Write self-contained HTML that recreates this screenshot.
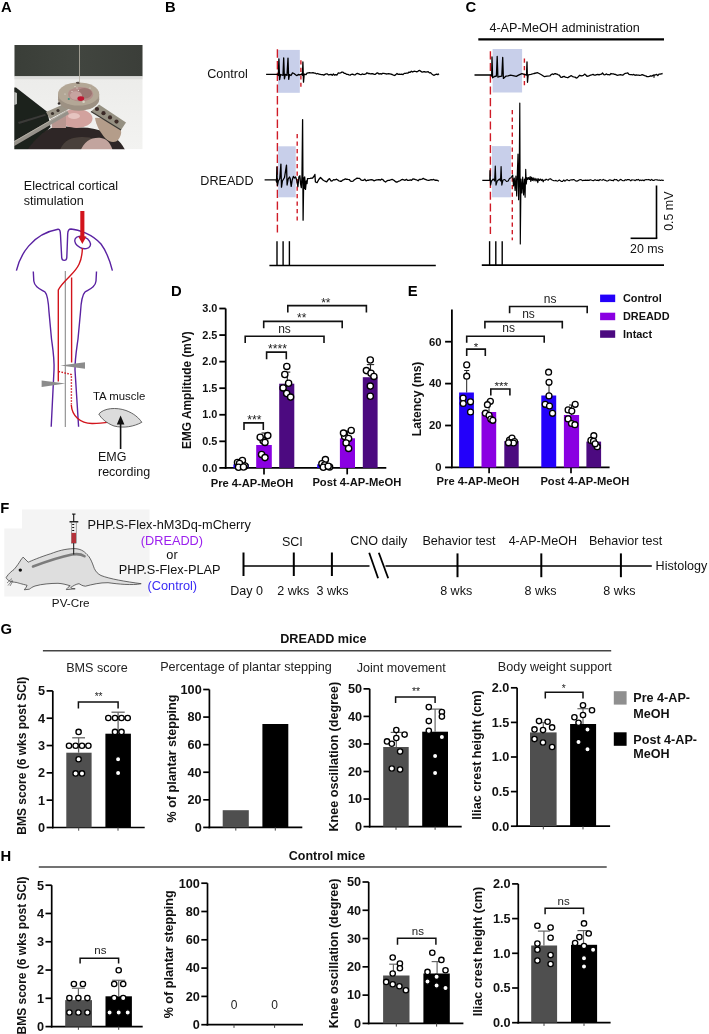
<!DOCTYPE html>
<html><head><meta charset="utf-8"><style>
html,body{margin:0;padding:0;background:#fff;}
body{width:709px;height:1034px;overflow:hidden;}
svg{display:block;font-family:"Liberation Sans", sans-serif;will-change:transform;filter:blur(0.4px);}
</style></head><body>
<svg width="709" height="1034" viewBox="0 0 709 1034">
<text x="1.0" y="12.4" font-size="14.8" font-weight="bold" text-anchor="start" fill="#000">A</text>
<text x="165.1" y="12.4" font-size="14.8" font-weight="bold" text-anchor="start" fill="#000">B</text>
<text x="465.4" y="12.4" font-size="14.8" font-weight="bold" text-anchor="start" fill="#000">C</text>
<text x="171.0" y="295.6" font-size="14.8" font-weight="bold" text-anchor="start" fill="#000">D</text>
<text x="407.8" y="295.6" font-size="14.8" font-weight="bold" text-anchor="start" fill="#000">E</text>
<text x="0.2" y="512.9" font-size="14.8" font-weight="bold" text-anchor="start" fill="#000">F</text>
<text x="0.4" y="634.2" font-size="14.8" font-weight="bold" text-anchor="start" fill="#000">G</text>
<text x="0.4" y="860.5" font-size="14.8" font-weight="bold" text-anchor="start" fill="#000">H</text>
<defs>
<linearGradient id="bgw" x1="0" y1="0" x2="0" y2="1"><stop offset="0" stop-color="#e9e9e7"/><stop offset="1" stop-color="#f3f3f1"/></linearGradient>
<linearGradient id="dark" x1="0" y1="0" x2="1" y2="0"><stop offset="0" stop-color="#3a3e38"/><stop offset="0.5" stop-color="#41453f"/><stop offset="1" stop-color="#3b3e39"/></linearGradient>
<radialGradient id="ring" cx="0.5" cy="0.5" r="0.5"><stop offset="0.55" stop-color="#c9a9a5"/><stop offset="0.7" stop-color="#aaa197"/><stop offset="1" stop-color="#9d968b"/></radialGradient>
<filter id="blur1"><feGaussianBlur stdDeviation="0.55"/></filter>
<filter id="blur2"><feGaussianBlur stdDeviation="1.5"/></filter>
<clipPath id="photoclip"><rect x="14.3" y="44.9" width="128.4" height="104.3"/></clipPath>
</defs>
<g clip-path="url(#photoclip)">
<rect x="14.3" y="44.9" width="128.4" height="104.3" fill="url(#bgw)"/>
<rect x="14.3" y="44.9" width="128.4" height="31.4" fill="url(#dark)"/>
<g filter="url(#blur1)">
<rect x="14.3" y="76.3" width="128.4" height="3" fill="#dcdcda"/>
<path d="M10,87.5 L16,87.5 L47.5,112 L50.5,127 L40,138 L28,152 L10,152 Z" stroke="none" stroke-width="1" fill="#1f201e"/>
<path d="M14.3,92 L17,93 L17,104 L14.3,105 Z" stroke="none" stroke-width="1" fill="#b8bab6"/>
<path d="M18,122 L45,114 L46,115.5 L19,124 Z" stroke="none" stroke-width="1" fill="#3a3b38"/>
<path d="M26,152 C34,140 44,130 54,127 C62,125 70,127 78,127.5 C88,127 98,129 108,133 C116,137 122,143 126,152 Z" stroke="none" stroke-width="1" fill="#2d2825"/>
<path d="M60,150 C64,140 72,137 82,137 C92,137 100,140 106,146 L108,152 L60,152 Z" stroke="none" stroke-width="1" fill="#4a3f3a"/>
<path d="M80,152 C84,141 92,137 101,138 C107,139 111,143 113,152 Z" stroke="none" stroke-width="1" fill="#c2a49e"/>
<path d="M95,118 C102,117 112,122 119,127 C123,131 121,137 117,141 C113,143 109,142 105,138 C100,132 96,125 95,118 Z" stroke="none" stroke-width="1" fill="#b49d8a"/>
<ellipse cx="76.5" cy="118.5" rx="16" ry="9.5" fill="#d2a29e"/>
<ellipse cx="74" cy="116" rx="6" ry="3" fill="#e6c4c0"/>
<path d="M51,119 L66,115 L66,128 L52,128 Z" stroke="none" stroke-width="1" fill="#b89690"/>
<path d="M46,112 L63,104.5 L68,109.5 L50,119 Z" stroke="none" stroke-width="1" fill="#9a9487"/>
<path d="M67,110.5 L14.3,141 L14.3,146 L69,114 Z" stroke="none" stroke-width="1" fill="#96928a"/>
<path d="M67,111 L14.3,141.5" stroke="#c2beb2" stroke-width="0.7" fill="none"/>
<path d="M91,111.5 L99,104.5 L126,122.5 L121,130 Z" stroke="none" stroke-width="1" fill="#959082"/>
<path d="M91,111.5 L121,130" stroke="#3a3833" stroke-width="1.2" fill="none"/>
<circle cx="97.0" cy="109.0" r="2.1" fill="#3b2a28"/>
<circle cx="103.5" cy="113.2" r="2.1" fill="#3b2a28"/>
<circle cx="110" cy="117.4" r="2.1" fill="#3b2a28"/>
<circle cx="116.5" cy="121.6" r="2.1" fill="#3b2a28"/>
<circle cx="52.5" cy="113.5" r="1.6" fill="#3a302c"/>
<circle cx="58" cy="110.5" r="1.6" fill="#3a302c"/>
<ellipse cx="78.6" cy="99.4" rx="20.6" ry="11.3" fill="#9d9183"/>
<rect x="58" y="94" width="41.2" height="5.4" fill="#a39789"/>
<ellipse cx="78.6" cy="94.0" rx="20.6" ry="11.6" fill="#b3a796"/>
<ellipse cx="80.6" cy="94.3" rx="12.6" ry="7.3" fill="#b38e8a"/>
<ellipse cx="84.5" cy="93.2" rx="7.5" ry="5.2" fill="#9c7672"/>
<ellipse cx="76" cy="95.5" rx="6" ry="4.3" fill="#c6a4a0"/>
<ellipse cx="80.8" cy="98.6" rx="3.4" ry="2.4" fill="#bf1830"/>
<circle cx="83.6" cy="101.8" r="1.3" fill="#d8d4c4"/>
<circle cx="68.8" cy="99.0" r="1.1" fill="#3e8c80"/>
<circle cx="59" cy="103.5" r="1.3" fill="#302c2a"/>
<ellipse cx="78" cy="82.8" rx="2.2" ry="1.1" fill="#5a5048"/>
<circle cx="77" cy="88" r="0.6" fill="#e8e4dc"/>
<circle cx="78.5" cy="90.5" r="0.6" fill="#e8e4dc"/>
<circle cx="72" cy="91.5" r="0.6" fill="#e8e4dc"/>
<circle cx="75" cy="86.5" r="0.6" fill="#e8e4dc"/>
<circle cx="65" cy="94" r="0.6" fill="#e8e4dc"/>
<circle cx="90" cy="88" r="0.6" fill="#e8e4dc"/>
</g>
<line x1="79.5" y1="44.9" x2="79.5" y2="83" stroke="#b8b2a6" stroke-width="0.8"/>
</g>
<text x="23.8" y="190.3" font-size="12.55" font-weight="normal" text-anchor="start" fill="#111">Electrical cortical</text>
<text x="23.8" y="205.3" font-size="12.55" font-weight="normal" text-anchor="start" fill="#111">stimulation</text>
<text x="93.0" y="400.3" font-size="11.4" font-weight="normal" text-anchor="start" fill="#111">TA muscle</text>
<text x="98.0" y="461.0" font-size="12.5" font-weight="normal" text-anchor="start" fill="#111">EMG</text>
<text x="98.0" y="475.8" font-size="12.5" font-weight="normal" text-anchor="start" fill="#111">recording</text>
<path d="M16.4,270.7 C20,255 32,234 58,229.3 C59.8,229 60.3,231 60.5,235 L61.7,257.5 C61.9,261.3 66.6,261.3 66.8,257.5 L67.7,234 C67.8,230 69,229 71,229 C78,229.5 92,234 101,244 C107,252 110,261 112.4,270.7" stroke="#5a22a2" stroke-width="1.4" fill="none"/>
<ellipse cx="82.6" cy="242.5" rx="8.3" ry="5.6" transform="rotate(25 82.6 242.5)" fill="none" stroke="#5a22a2" stroke-width="1.4"/>
<path d="M33.3,271.5 L33.8,281 C34.5,287 40,289 45,292 C48,295 48.5,303 49,312 L51.5,339 C53,350 54.5,358 54,370 L51.2,426.8" stroke="#5a22a2" stroke-width="1.4" fill="none"/>
<path d="M96.5,271.5 L96,281 C95.5,287 90,289 85,292 C82,295 81,303 80.5,312 L78,339 C76.5,350 75,358 75,370 L78.6,426.8" stroke="#5a22a2" stroke-width="1.4" fill="none"/>
<line x1="65.3" y1="271" x2="65.3" y2="427" stroke="#8a8a8a" stroke-width="1.1"/>
<path d="M82.4,248 C82,262 78,268 70,276 C64,282 60,286 58.3,290 L58.3,381.5" stroke="#d2141c" stroke-width="1.4" fill="none"/>
<line x1="71.6" y1="277.5" x2="71.6" y2="362.5" stroke="#d2141c" stroke-width="1.4"/>
<path d="M58.5,371.5 L71.4,374.5 L71.4,404.5" stroke="#d2141c" stroke-width="1.4" fill="none" stroke-dasharray="1.6,1.4"/>
<path d="M71.3,405 C72,416 80,423 92,423.5 C100,423.6 106,422.5 112.5,421.5" stroke="#d2141c" stroke-width="1.4" fill="none"/>
<path d="M60.4,365.5 L85,362.3 L85,368.8 Z" stroke="none" stroke-width="1" fill="#8c8c8c"/>
<path d="M41.6,380.4 L41.6,386.9 L65.5,383.6 Z" stroke="none" stroke-width="1" fill="#8c8c8c"/>
<path d="M80.3,211 L84.4,211 L84.4,236.5 L86.4,236.5 L82.35,244 L78.3,236.5 L80.3,236.5 Z" stroke="none" stroke-width="1" fill="#d2141c"/>
<path d="M98.8,414 C104,408 116,407 126,410.5 C134,413.5 139,418 141.8,422.3 C134,426.5 124,428.5 114,426 C106,423 101,418 98.8,414 Z" stroke="#555" stroke-width="0.9" fill="#dcdcdc"/>
<line x1="120.6" y1="449" x2="120.6" y2="423" stroke="#111" stroke-width="1.6"/>
<path d="M116.8,424.5 L124.4,424.5 L120.6,415.6 Z" stroke="none" stroke-width="1" fill="#111"/>
<text x="207.2" y="77.5" font-size="12.6" font-weight="normal" text-anchor="start" fill="#111">Control</text>
<text x="200.3" y="184.8" font-size="12.6" font-weight="normal" text-anchor="start" fill="#111">DREADD</text>
<rect x="278.1" y="49.9" width="21.7" height="42.9" fill="#c8cfea"/>
<line x1="277.4" y1="49.3" x2="277.4" y2="232.5" stroke="#cf1b27" stroke-width="1.4" stroke-dasharray="8.4,3.3"/>
<line x1="300.9" y1="60.2" x2="300.9" y2="86.8" stroke="#cf1b27" stroke-width="1.4" stroke-dasharray="4.2,3.3"/>
<polyline points="266.10,74.40 277.90,74.40 278.30,75.50 278.90,59.00 279.60,79.70 280.60,74.50 283.00,75.30 283.70,57.90 284.40,78.80 285.40,74.30 287.00,75.40 288.00,58.10 288.70,79.30 289.50,74.60 291.00,75.50 292.50,72.90 294.00,73.50 295.80,75.00 297.00,75.60 298.40,74.50 300.00,74.80 301.50,74.00 302.40,75.20 302.90,61.90 303.50,82.20 304.20,74.20 306.00,74.60 307.00,73.13 308.20,72.85 309.40,72.75 310.60,72.88 311.80,72.92 313.00,72.68 314.20,73.17 315.40,73.20 316.60,73.96 317.80,73.48 319.00,74.21 320.20,74.36 321.40,74.55 322.60,74.65 323.80,75.16 325.00,74.37 326.20,73.86 327.40,73.94 328.60,74.94 329.80,74.54 331.00,74.36 332.20,75.35 333.40,74.04 334.60,75.19 335.80,74.54 337.00,75.03 338.20,73.00 339.40,73.22 340.60,72.81 341.80,72.14 343.00,72.21 344.20,73.32 345.40,73.39 346.60,74.33 347.80,74.42 349.00,74.86 350.20,75.09 351.40,74.29 352.60,74.04 353.80,74.81 355.00,74.90 356.20,73.87 357.40,73.38 358.60,73.79 359.80,74.35 361.00,74.72 362.20,73.92 363.40,74.37 364.60,74.37 365.80,73.99 367.00,72.76 368.20,73.48 369.40,73.52 370.60,73.94 371.80,73.65 373.00,73.77 374.20,74.40 375.40,74.26 376.60,73.24 377.80,72.95 379.00,74.03 380.20,73.65 381.40,74.10 382.60,73.35 383.80,73.46 385.00,73.62 386.20,73.98 387.40,73.91 388.60,73.53 389.80,73.87 391.00,74.19 392.20,74.50 393.40,75.10 394.60,75.50 395.80,74.62 397.00,73.54 398.20,74.34 399.40,74.25 400.60,74.35 401.80,74.22 403.00,74.60 404.20,73.41 405.40,73.31 406.60,73.12 407.80,73.19 409.00,72.03 410.20,72.30 411.40,71.19 412.60,72.03 413.80,71.36 415.00,71.26 416.20,71.77 417.40,71.64 418.60,70.63 419.80,70.39 421.00,71.42 422.20,72.19 423.40,71.76 424.60,71.74 425.80,72.09 427.00,71.87 428.20,71.76 429.40,72.89 430.60,72.77 431.80,73.90 433.00,74.83 434.20,75.31 435.40,74.53 436.60,74.17 437.80,74.63 439.00,73.66" stroke="#000" stroke-width="1.3" fill="none" stroke-linejoin="round"/>
<rect x="278.1" y="146.3" width="17.6" height="51.0" fill="#c8cfea"/>
<line x1="297.2" y1="134.1" x2="297.2" y2="220.5" stroke="#cf1b27" stroke-width="1.4" stroke-dasharray="4.2,3.3"/>
<polyline points="264.60,179.90 276.20,179.90 276.50,182.00 276.90,166.90 277.40,185.50 278.30,181.00 279.80,178.50 280.90,164.10 281.50,187.20 282.40,181.00 284.50,177.50 286.50,165.20 287.10,185.00 288.20,179.00 289.50,177.00 290.20,178.60 291.20,186.30 292.20,180.00 293.40,176.40 294.40,178.00 295.60,177.00 296.80,180.30 297.90,186.60 298.90,177.00 299.90,175.80 300.60,184.00 301.30,187.70 302.00,176.00 302.60,119.60 303.10,220.20 303.70,178.00 304.20,188.50 304.70,177.00 305.50,189.40 306.30,181.00 307.00,183.70 307.50,178.60 310.00,178.40 312.60,178.00 314.20,176.00 314.90,174.40 315.40,182.00 317.10,182.60 318.80,179.50 320.50,177.50 322.00,179.00 323.30,180.30 325.00,181.20 326.70,181.80 328.00,180.00 329.50,178.60 331.00,181.00 332.30,180.91 333.60,179.60 334.90,179.99 336.20,179.21 337.50,179.78 338.80,180.81 340.10,181.26 341.40,181.25 342.70,180.09 344.00,179.68 345.30,178.81 346.60,179.27 347.90,179.43 349.20,179.53 350.50,181.14 351.80,181.29 353.10,181.11 354.40,179.83 355.70,178.94 357.00,178.12 358.30,178.47 359.60,178.30 360.90,179.88 362.20,180.31 363.50,180.33 364.80,179.24 366.10,180.95 367.40,180.19 368.70,180.23 370.00,179.86 371.30,179.73 372.60,179.88 373.90,180.84 375.20,180.33 376.50,179.83 377.80,179.76 379.10,179.60 380.40,180.21 381.70,179.10 383.00,179.77 384.30,181.22 385.60,182.04 386.90,180.88 388.20,180.36 389.50,180.33 390.80,179.75 392.10,179.30 393.40,180.05 394.70,180.88 396.00,181.98 397.30,181.98 398.60,181.21 399.90,180.78 401.20,179.98 402.50,179.48 403.80,179.89 405.10,180.28 406.40,179.36 407.70,180.41 409.00,180.35 410.30,179.95 411.60,180.27 412.90,178.88 414.20,179.04 415.50,179.64 416.80,179.96 418.10,180.73 419.40,179.34 420.70,179.50 422.00,179.06 423.30,178.37 424.60,179.19 425.90,179.67 427.20,180.16 428.50,180.42 429.80,180.02 431.10,179.73 432.40,179.83 433.70,179.47 435.00,180.25 436.30,180.24 437.60,180.45 438.90,181.24" stroke="#000" stroke-width="1.3" fill="none" stroke-linejoin="round"/>
<line x1="277.0" y1="241.2" x2="277.0" y2="265.5" stroke="#000" stroke-width="1.4"/>
<line x1="283.1" y1="241.2" x2="283.1" y2="265.5" stroke="#000" stroke-width="1.4"/>
<line x1="289.4" y1="241.2" x2="289.4" y2="265.5" stroke="#000" stroke-width="1.4"/>
<line x1="269.4" y1="265.5" x2="435.8" y2="265.5" stroke="#000" stroke-width="1.7"/>
<text x="489.4" y="32.0" font-size="12.6" font-weight="normal" text-anchor="start" fill="#111">4-AP-MeOH administration</text>
<line x1="478.3" y1="39.4" x2="664" y2="39.4" stroke="#000" stroke-width="2.4"/>
<rect x="492.6" y="49.0" width="29.5" height="43.5" fill="#c8cfea"/>
<line x1="490.4" y1="51.3" x2="490.4" y2="234.0" stroke="#cf1b27" stroke-width="1.4" stroke-dasharray="8.1,3.6"/>
<line x1="524.4" y1="58.6" x2="524.4" y2="85.2" stroke="#cf1b27" stroke-width="1.4" stroke-dasharray="4.2,3.3"/>
<polyline points="474.50,75.00 491.50,75.00 491.70,76.00 492.00,56.90 492.60,77.80 494.50,76.50 496.40,76.00 497.20,56.40 497.90,77.20 499.50,76.50 501.80,76.20 502.70,57.50 503.40,78.40 505.00,77.00 506.10,76.10 508.00,75.80 510.60,75.20 513.00,75.60 516.30,76.30 518.50,75.20 521.90,73.60 524.20,74.40 526.50,75.00 527.00,62.00 527.50,82.30 528.20,74.80 530.90,74.40 534.00,73.50 537.70,72.70 541.00,74.50 544.50,76.70 547.00,76.20 550.00,75.90 551.00,74.73 552.20,73.92 553.40,74.48 554.60,73.68 555.80,73.76 557.00,74.10 558.20,74.77 559.40,75.15 560.60,77.10 561.80,77.40 563.00,76.64 564.20,76.44 565.40,77.07 566.60,77.44 567.80,77.74 569.00,76.86 570.20,76.21 571.40,75.70 572.60,76.57 573.80,76.95 575.00,77.13 576.20,78.03 577.40,77.70 578.60,76.30 579.80,75.25 581.00,75.83 582.20,75.75 583.40,75.38 584.60,74.09 585.80,74.98 587.00,76.26 588.20,76.22 589.40,75.63 590.60,75.23 591.80,74.98 593.00,74.29 594.20,75.09 595.40,75.11 596.60,74.57 597.80,74.33 599.00,74.92 600.20,74.36 601.40,74.19 602.60,73.03 603.80,74.63 605.00,74.81 606.20,73.96 607.40,74.54 608.60,74.68 609.80,74.88 611.00,73.51 612.20,73.90 613.40,73.84 614.60,74.37 615.80,74.51 617.00,75.33 618.20,75.09 619.40,74.87 620.60,74.65 621.80,75.00 623.00,75.14 624.20,74.06 625.40,73.28 626.60,73.20 627.80,72.93 629.00,74.43 630.20,74.56 631.40,74.63 632.60,74.80 633.80,74.40 635.00,75.28 636.20,74.91 637.40,75.22 638.60,75.04 639.80,75.45 641.00,75.14 642.20,74.65 643.40,75.13 644.60,75.65 645.80,75.89 647.00,76.72 648.20,76.67 649.40,76.28 650.60,75.77 651.80,76.11 653.00,75.37 654.20,75.02 655.40,74.83 656.60,74.41 657.80,75.55 659.00,74.11 660.20,74.20 661.40,73.80 662.60,73.50" stroke="#000" stroke-width="1.3" fill="none" stroke-linejoin="round"/>
<line x1="654" y1="74.5" x2="654" y2="77.8" stroke="#000" stroke-width="1.2"/>
<rect x="491.9" y="146.1" width="19.1" height="51.2" fill="#c8cfea"/>
<line x1="512.3" y1="110.1" x2="512.3" y2="240.2" stroke="#cf1b27" stroke-width="1.4" stroke-dasharray="4.2,3.3"/>
<polyline points="482.30,180.30 489.70,180.30 490.00,170.50 490.60,185.10 491.50,181.00 493.30,179.00 494.60,181.00 495.30,166.00 496.00,185.10 497.20,181.00 499.50,179.00 500.50,181.00 501.10,166.50 501.80,185.10 503.00,180.00 504.80,179.50 506.50,181.50 508.20,181.00 509.50,178.50 511.00,177.80 512.70,175.00 513.50,186.00 514.30,178.00 515.10,190.50 515.90,176.00 516.70,196.00 517.40,171.00 518.00,154.10 518.60,199.80 519.20,176.00 519.80,103.10 520.30,243.90 521.00,179.00 521.90,193.00 522.70,177.00 523.60,195.00 524.40,179.00 525.10,197.20 525.70,169.30 526.30,184.00 527.00,177.50 527.80,179.50 528.60,177.50 529.40,179.50 530.20,176.50 530.80,181.50 531.60,177.20 532.30,180.50 533.20,177.80 534.00,180.80 535.00,178.20 536.00,181.00 537.00,178.60 537.80,182.60 538.60,178.80 539.60,180.40 540.60,179.00 541.40,180.60 542.30,179.40 543.20,181.80 543.90,180.00 545.00,180.30 546.10,179.19 547.20,179.79 548.30,180.24 549.40,178.96 550.50,178.81 551.60,179.74 552.70,180.22 553.80,180.62 554.90,180.75 556.00,180.41 557.10,181.14 558.20,180.66 559.30,179.93 560.40,180.70 561.50,181.47 562.60,181.31 563.70,179.99 564.80,181.23 565.90,180.32 567.00,179.62 568.10,180.20 569.20,180.68 570.30,180.00 571.40,179.81 572.50,179.87 573.60,179.47 574.70,180.12 575.80,180.97 576.90,181.15 578.00,180.63 579.10,179.99 580.20,179.67 581.30,179.79 582.40,180.61 583.50,180.44 584.60,180.41 585.70,180.09 586.80,180.33 587.90,180.12 589.00,180.49 590.10,179.69 591.20,180.06 592.30,180.44 593.40,180.65 594.50,179.90 595.60,179.91 596.70,180.48 597.80,180.12 598.90,180.62 600.00,179.48 601.10,179.98 602.20,180.25 603.30,179.38 604.40,180.13 605.50,180.36 606.60,181.01 607.70,180.97 608.80,180.37 609.90,179.75 611.00,180.31 612.10,180.30 613.20,180.81 614.30,179.37 615.40,179.70 616.50,179.50 617.60,180.66 618.70,180.93 619.80,179.80 620.90,179.41 622.00,180.24 623.10,180.78 624.20,180.74 625.30,179.70 626.40,180.21 627.50,179.57 628.60,179.48 629.70,179.85 630.80,180.81 631.90,179.78 633.00,180.03 634.10,180.00 635.20,180.66 636.30,179.60 637.40,179.92 638.50,179.40 639.60,180.64 640.70,179.99 641.80,180.56 642.90,179.93 644.00,180.72 645.10,179.72 646.20,179.66 647.30,179.73 648.40,179.44 649.50,179.84 650.60,180.38 651.70,179.30 652.80,180.45 653.90,180.43 655.00,179.80 656.10,179.71 657.20,179.85 658.30,180.23 659.40,180.05 660.50,180.54 661.60,180.06 662.70,180.36 663.80,180.32" stroke="#000" stroke-width="1.15" fill="none" stroke-linejoin="round"/>
<line x1="489.6" y1="241.2" x2="489.6" y2="265.0" stroke="#000" stroke-width="1.4"/>
<line x1="495.8" y1="241.2" x2="495.8" y2="265.0" stroke="#000" stroke-width="1.4"/>
<line x1="502.2" y1="241.2" x2="502.2" y2="265.0" stroke="#000" stroke-width="1.4"/>
<line x1="481.8" y1="265.1" x2="664" y2="265.1" stroke="#000" stroke-width="1.7"/>
<line x1="656.5" y1="185.5" x2="656.5" y2="238.3" stroke="#000" stroke-width="1.6"/>
<line x1="630.6" y1="238.3" x2="657.3" y2="238.3" stroke="#000" stroke-width="1.6"/>
<text x="630.0" y="253.0" font-size="12.4" font-weight="normal" text-anchor="start" fill="#111">20 ms</text>
<text x="673.0" y="230.8" font-size="12.4" font-weight="normal" text-anchor="start" fill="#111" transform="rotate(-90 673.0 230.8)">0.5 mV</text>
<line x1="225.7" y1="308.5" x2="225.7" y2="468.8" stroke="#000" stroke-width="1.8"/>
<line x1="219.3" y1="467.9" x2="225.7" y2="467.9" stroke="#000" stroke-width="1.8"/>
<text x="217.3" y="471.61" font-size="10.9" font-weight="bold" text-anchor="end" fill="#111">0.0</text>
<line x1="219.3" y1="441.33" x2="225.7" y2="441.33" stroke="#000" stroke-width="1.8"/>
<text x="217.3" y="445.04" font-size="10.9" font-weight="bold" text-anchor="end" fill="#111">0.5</text>
<line x1="219.3" y1="414.77" x2="225.7" y2="414.77" stroke="#000" stroke-width="1.8"/>
<text x="217.3" y="418.48" font-size="10.9" font-weight="bold" text-anchor="end" fill="#111">1.0</text>
<line x1="219.3" y1="388.2" x2="225.7" y2="388.2" stroke="#000" stroke-width="1.8"/>
<text x="217.3" y="391.91" font-size="10.9" font-weight="bold" text-anchor="end" fill="#111">1.5</text>
<line x1="219.3" y1="361.64" x2="225.7" y2="361.64" stroke="#000" stroke-width="1.8"/>
<text x="217.3" y="365.35" font-size="10.9" font-weight="bold" text-anchor="end" fill="#111">2.0</text>
<line x1="219.3" y1="335.07" x2="225.7" y2="335.07" stroke="#000" stroke-width="1.8"/>
<text x="217.3" y="338.78" font-size="10.9" font-weight="bold" text-anchor="end" fill="#111">2.5</text>
<line x1="219.3" y1="308.51" x2="225.7" y2="308.51" stroke="#000" stroke-width="1.8"/>
<text x="217.3" y="312.22" font-size="10.9" font-weight="bold" text-anchor="end" fill="#111">3.0</text>
<line x1="224.8" y1="467.9" x2="386.3" y2="467.9" stroke="#000" stroke-width="1.8"/>
<line x1="264" y1="467.9" x2="264" y2="474.4" stroke="#000" stroke-width="1.7"/>
<line x1="347.2" y1="467.9" x2="347.2" y2="474.4" stroke="#000" stroke-width="1.7"/>
<text x="210.7" y="486.5" font-size="11.2" font-weight="bold" text-anchor="start" fill="#111">Pre 4-AP-MeOH</text>
<text x="312.4" y="485.6" font-size="11.2" font-weight="bold" text-anchor="start" fill="#111">Post 4-AP-MeOH</text>
<text x="191.0" y="449.0" font-size="11.9" font-weight="bold" text-anchor="start" fill="#111" transform="rotate(-90 191.0 449.0)">EMG Amplitude (mV)</text>
<rect x="233.4" y="464.3" width="15.5" height="3.6" fill="#2300fa"/>
<rect x="256.2" y="445" width="15.6" height="22.9" fill="#8a00e2"/>
<rect x="279.2" y="383.7" width="15.1" height="84.2" fill="#4c0a80"/>
<rect x="317.2" y="464.3" width="14.5" height="3.6" fill="#2300fa"/>
<rect x="339.9" y="438.3" width="15.1" height="29.6" fill="#8a00e2"/>
<rect x="362.8" y="377.2" width="14.8" height="90.7" fill="#4c0a80"/>
<line x1="287.3" y1="383.7" x2="287.3" y2="372.1" stroke="#222" stroke-width="1.1"/>
<line x1="284.3" y1="372.1" x2="290.3" y2="372.1" stroke="#222" stroke-width="1.1"/>
<line x1="370.5" y1="377.2" x2="370.5" y2="364.6" stroke="#222" stroke-width="1.1"/>
<line x1="366.85" y1="364.6" x2="374.15" y2="364.6" stroke="#222" stroke-width="1.1"/>
<line x1="264.5" y1="444.9" x2="264.5" y2="433" stroke="#222" stroke-width="1.1"/>
<line x1="261.5" y1="433" x2="267.5" y2="433" stroke="#222" stroke-width="1.1"/>
<line x1="347.5" y1="438.4" x2="347.5" y2="431" stroke="#222" stroke-width="1.1"/>
<line x1="344.5" y1="431" x2="350.5" y2="431" stroke="#222" stroke-width="1.1"/>
<circle cx="237.5" cy="462.5" r="3.1" fill="#fff" stroke="#000" stroke-width="1.35"/>
<circle cx="242.4" cy="460.5" r="3.1" fill="#fff" stroke="#000" stroke-width="1.35"/>
<circle cx="239.5" cy="463.5" r="3.1" fill="#fff" stroke="#000" stroke-width="1.35"/>
<circle cx="238.5" cy="467.3" r="3.1" fill="#fff" stroke="#000" stroke-width="1.35"/>
<circle cx="245" cy="466" r="3.1" fill="#fff" stroke="#000" stroke-width="1.35"/>
<circle cx="243.5" cy="467" r="3.1" fill="#fff" stroke="#000" stroke-width="1.35"/>
<circle cx="263.1" cy="440.7" r="3.1" fill="#fff" stroke="#000" stroke-width="1.35"/>
<circle cx="260.2" cy="437.3" r="3.1" fill="#fff" stroke="#000" stroke-width="1.35"/>
<circle cx="267.8" cy="435.6" r="3.1" fill="#fff" stroke="#000" stroke-width="1.35"/>
<circle cx="265" cy="442.4" r="3.1" fill="#fff" stroke="#000" stroke-width="1.35"/>
<circle cx="261.6" cy="454.4" r="3.1" fill="#fff" stroke="#000" stroke-width="1.35"/>
<circle cx="265" cy="457.6" r="3.1" fill="#fff" stroke="#000" stroke-width="1.35"/>
<circle cx="286.8" cy="366.4" r="3.1" fill="#fff" stroke="#000" stroke-width="1.35"/>
<circle cx="284.8" cy="374.5" r="3.1" fill="#fff" stroke="#000" stroke-width="1.35"/>
<circle cx="288.6" cy="383.3" r="3.1" fill="#fff" stroke="#000" stroke-width="1.35"/>
<circle cx="283.1" cy="387.9" r="3.1" fill="#fff" stroke="#000" stroke-width="1.35"/>
<circle cx="286.7" cy="393.5" r="3.1" fill="#fff" stroke="#000" stroke-width="1.35"/>
<circle cx="290.6" cy="397.1" r="3.1" fill="#fff" stroke="#000" stroke-width="1.35"/>
<circle cx="325.4" cy="459.6" r="3.1" fill="#fff" stroke="#000" stroke-width="1.35"/>
<circle cx="321.9" cy="463.7" r="3.1" fill="#fff" stroke="#000" stroke-width="1.35"/>
<circle cx="324.7" cy="465" r="3.1" fill="#fff" stroke="#000" stroke-width="1.35"/>
<circle cx="323.3" cy="467.2" r="3.1" fill="#fff" stroke="#000" stroke-width="1.35"/>
<circle cx="329.6" cy="467" r="3.1" fill="#fff" stroke="#000" stroke-width="1.35"/>
<circle cx="328.2" cy="466.3" r="3.1" fill="#fff" stroke="#000" stroke-width="1.35"/>
<circle cx="344.6" cy="436.5" r="3.1" fill="#fff" stroke="#000" stroke-width="1.35"/>
<circle cx="343.5" cy="433.1" r="3.1" fill="#fff" stroke="#000" stroke-width="1.35"/>
<circle cx="351.2" cy="430.4" r="3.1" fill="#fff" stroke="#000" stroke-width="1.35"/>
<circle cx="348.6" cy="438.4" r="3.1" fill="#fff" stroke="#000" stroke-width="1.35"/>
<circle cx="346.1" cy="442.9" r="3.1" fill="#fff" stroke="#000" stroke-width="1.35"/>
<circle cx="348.6" cy="448.4" r="3.1" fill="#fff" stroke="#000" stroke-width="1.35"/>
<circle cx="370.3" cy="360" r="3.1" fill="#fff" stroke="#000" stroke-width="1.35"/>
<circle cx="366.4" cy="370.6" r="3.1" fill="#fff" stroke="#000" stroke-width="1.35"/>
<circle cx="371" cy="373.3" r="3.1" fill="#fff" stroke="#000" stroke-width="1.35"/>
<circle cx="373.9" cy="376.4" r="3.1" fill="#fff" stroke="#000" stroke-width="1.35"/>
<circle cx="370.3" cy="386.1" r="3.1" fill="#fff" stroke="#000" stroke-width="1.35"/>
<circle cx="370.3" cy="396.3" r="3.1" fill="#fff" stroke="#000" stroke-width="1.35"/>
<path d="M287.8,312.6 L287.8,305.6 L366.4,305.6 L366.4,312.6" stroke="#111" stroke-width="1.6" fill="none" stroke-linejoin="miter"/>
<text x="325.8" y="306.74" font-size="12" font-weight="normal" text-anchor="middle" fill="#222">**</text>
<path d="M263.7,328.2 L263.7,321.4 L342.2,321.4 L342.2,328.2" stroke="#111" stroke-width="1.6" fill="none" stroke-linejoin="miter"/>
<text x="301.7" y="321.94" font-size="12" font-weight="normal" text-anchor="middle" fill="#222">**</text>
<path d="M245.2,343.1 L245.2,336.3 L324,336.3 L324,343.1" stroke="#111" stroke-width="1.6" fill="none" stroke-linejoin="miter"/>
<text x="284.5" y="332.8" font-size="12" font-weight="normal" text-anchor="middle" fill="#222">ns</text>
<path d="M266.6,359.3 L266.6,352.1 L286.3,352.1 L286.3,359.3" stroke="#111" stroke-width="1.6" fill="none" stroke-linejoin="miter"/>
<text x="277.4" y="352.55" font-size="12.2" font-weight="normal" text-anchor="middle" fill="#222">****</text>
<path d="M244,430 L244,422.9 L263.3,422.9 L263.3,430" stroke="#111" stroke-width="1.6" fill="none" stroke-linejoin="miter"/>
<text x="254.4" y="424.15" font-size="12.2" font-weight="normal" text-anchor="middle" fill="#222">***</text>
<line x1="451.9" y1="309.6" x2="451.9" y2="468.3" stroke="#000" stroke-width="1.8"/>
<line x1="445.1" y1="467.4" x2="451.9" y2="467.4" stroke="#000" stroke-width="1.8"/>
<text x="441.6" y="471.24" font-size="11.3" font-weight="bold" text-anchor="end" fill="#111">0</text>
<line x1="445.1" y1="425.5" x2="451.9" y2="425.5" stroke="#000" stroke-width="1.8"/>
<text x="441.6" y="429.34" font-size="11.3" font-weight="bold" text-anchor="end" fill="#111">20</text>
<line x1="445.1" y1="383.6" x2="451.9" y2="383.6" stroke="#000" stroke-width="1.8"/>
<text x="441.6" y="387.44" font-size="11.3" font-weight="bold" text-anchor="end" fill="#111">40</text>
<line x1="445.1" y1="341.7" x2="451.9" y2="341.7" stroke="#000" stroke-width="1.8"/>
<text x="441.6" y="345.54" font-size="11.3" font-weight="bold" text-anchor="end" fill="#111">60</text>
<line x1="451.0" y1="467.4" x2="609.6" y2="467.4" stroke="#000" stroke-width="1.8"/>
<line x1="489.1" y1="467.4" x2="489.1" y2="473.3" stroke="#000" stroke-width="1.7"/>
<line x1="571" y1="467.4" x2="571" y2="473.3" stroke="#000" stroke-width="1.7"/>
<text x="436.6" y="485.4" font-size="11.2" font-weight="bold" text-anchor="start" fill="#111">Pre 4-AP-MeOH</text>
<text x="540.4" y="484.9" font-size="11.2" font-weight="bold" text-anchor="start" fill="#111">Post 4-AP-MeOH</text>
<text x="421.3" y="436.2" font-size="12.1" font-weight="bold" text-anchor="start" fill="#111" transform="rotate(-90 421.3 436.2)">Latency (ms)</text>
<rect x="459.1" y="392.5" width="14.8" height="74.9" fill="#2300fa"/>
<rect x="481.5" y="412" width="14.7" height="55.4" fill="#8a00e2"/>
<rect x="504.3" y="441.1" width="14.4" height="26.3" fill="#4c0a80"/>
<rect x="541.3" y="395.5" width="14.9" height="71.9" fill="#2300fa"/>
<rect x="563.9" y="415" width="15.2" height="52.4" fill="#8a00e2"/>
<rect x="586.4" y="441.6" width="14.7" height="25.8" fill="#4c0a80"/>
<line x1="466.7" y1="392.5" x2="466.7" y2="370.5" stroke="#222" stroke-width="1.0"/>
<line x1="464.2" y1="370.5" x2="469.2" y2="370.5" stroke="#222" stroke-width="1.0"/>
<line x1="489" y1="412" x2="489" y2="401" stroke="#222" stroke-width="1.0"/>
<line x1="486.5" y1="401" x2="491.5" y2="401" stroke="#222" stroke-width="1.0"/>
<line x1="511.5" y1="441.1" x2="511.5" y2="436.5" stroke="#222" stroke-width="1.0"/>
<line x1="509.0" y1="436.5" x2="514.0" y2="436.5" stroke="#222" stroke-width="1.0"/>
<line x1="549" y1="395.5" x2="549" y2="381" stroke="#222" stroke-width="1.0"/>
<line x1="546.5" y1="381" x2="551.5" y2="381" stroke="#222" stroke-width="1.0"/>
<line x1="571.5" y1="415" x2="571.5" y2="405" stroke="#222" stroke-width="1.0"/>
<line x1="569.0" y1="405" x2="574.0" y2="405" stroke="#222" stroke-width="1.0"/>
<line x1="593.8" y1="441.6" x2="593.8" y2="437" stroke="#222" stroke-width="1.0"/>
<line x1="591.3" y1="437" x2="596.3" y2="437" stroke="#222" stroke-width="1.0"/>
<circle cx="466.7" cy="364.9" r="2.95" fill="#fff" stroke="#000" stroke-width="1.3"/>
<circle cx="466.7" cy="376.2" r="2.95" fill="#fff" stroke="#000" stroke-width="1.3"/>
<circle cx="463.1" cy="398.1" r="2.95" fill="#fff" stroke="#000" stroke-width="1.3"/>
<circle cx="463.2" cy="403.5" r="2.95" fill="#fff" stroke="#000" stroke-width="1.3"/>
<circle cx="470.5" cy="401.8" r="2.95" fill="#fff" stroke="#000" stroke-width="1.3"/>
<circle cx="470.5" cy="412" r="2.95" fill="#fff" stroke="#000" stroke-width="1.3"/>
<circle cx="490.4" cy="401.3" r="2.95" fill="#fff" stroke="#000" stroke-width="1.3"/>
<circle cx="487.4" cy="404.7" r="2.95" fill="#fff" stroke="#000" stroke-width="1.3"/>
<circle cx="485.4" cy="413.2" r="2.95" fill="#fff" stroke="#000" stroke-width="1.3"/>
<circle cx="489.1" cy="415.4" r="2.95" fill="#fff" stroke="#000" stroke-width="1.3"/>
<circle cx="490.8" cy="419.1" r="2.95" fill="#fff" stroke="#000" stroke-width="1.3"/>
<circle cx="492.8" cy="420.3" r="2.95" fill="#fff" stroke="#000" stroke-width="1.3"/>
<circle cx="509.5" cy="440" r="2.95" fill="#fff" stroke="#000" stroke-width="1.3"/>
<circle cx="512" cy="438" r="2.95" fill="#fff" stroke="#000" stroke-width="1.3"/>
<circle cx="514.5" cy="441.5" r="2.95" fill="#fff" stroke="#000" stroke-width="1.3"/>
<circle cx="511" cy="442.5" r="2.95" fill="#fff" stroke="#000" stroke-width="1.3"/>
<circle cx="513.5" cy="443" r="2.95" fill="#fff" stroke="#000" stroke-width="1.3"/>
<circle cx="508.5" cy="442.8" r="2.95" fill="#fff" stroke="#000" stroke-width="1.3"/>
<circle cx="548.6" cy="372.2" r="2.95" fill="#fff" stroke="#000" stroke-width="1.3"/>
<circle cx="549" cy="382.3" r="2.95" fill="#fff" stroke="#000" stroke-width="1.3"/>
<circle cx="549" cy="395.9" r="2.95" fill="#fff" stroke="#000" stroke-width="1.3"/>
<circle cx="545.2" cy="404.3" r="2.95" fill="#fff" stroke="#000" stroke-width="1.3"/>
<circle cx="549.5" cy="406" r="2.95" fill="#fff" stroke="#000" stroke-width="1.3"/>
<circle cx="552.5" cy="413.3" r="2.95" fill="#fff" stroke="#000" stroke-width="1.3"/>
<circle cx="575.2" cy="404.3" r="2.95" fill="#fff" stroke="#000" stroke-width="1.3"/>
<circle cx="568.1" cy="409.9" r="2.95" fill="#fff" stroke="#000" stroke-width="1.3"/>
<circle cx="571.8" cy="411.1" r="2.95" fill="#fff" stroke="#000" stroke-width="1.3"/>
<circle cx="568.1" cy="418.9" r="2.95" fill="#fff" stroke="#000" stroke-width="1.3"/>
<circle cx="571.5" cy="423.5" r="2.95" fill="#fff" stroke="#000" stroke-width="1.3"/>
<circle cx="574.9" cy="424.7" r="2.95" fill="#fff" stroke="#000" stroke-width="1.3"/>
<circle cx="593.8" cy="435.7" r="2.95" fill="#fff" stroke="#000" stroke-width="1.3"/>
<circle cx="590.9" cy="440.4" r="2.95" fill="#fff" stroke="#000" stroke-width="1.3"/>
<circle cx="593.5" cy="441.2" r="2.95" fill="#fff" stroke="#000" stroke-width="1.3"/>
<circle cx="597.2" cy="446.7" r="2.95" fill="#fff" stroke="#000" stroke-width="1.3"/>
<circle cx="595.2" cy="443.8" r="2.95" fill="#fff" stroke="#000" stroke-width="1.3"/>
<path d="M466.7,356 L466.7,349.1 L485.3,349.1 L485.3,356" stroke="#111" stroke-width="1.6" fill="none" stroke-linejoin="miter"/>
<text x="476" y="351.39" font-size="11.5" font-weight="normal" text-anchor="middle" fill="#222">*</text>
<path d="M466.7,342.8 L466.7,336.2 L544.2,336.2 L544.2,342.8" stroke="#111" stroke-width="1.6" fill="none" stroke-linejoin="miter"/>
<text x="508.6" y="332.3" font-size="12" font-weight="normal" text-anchor="middle" fill="#222">ns</text>
<path d="M484.9,328.5 L484.9,321.6 L562.3,321.6 L562.3,328.5" stroke="#111" stroke-width="1.6" fill="none" stroke-linejoin="miter"/>
<text x="528.5" y="318.0" font-size="12" font-weight="normal" text-anchor="middle" fill="#222">ns</text>
<path d="M509.6,313.2 L509.6,306.5 L587.2,306.5 L587.2,313.2" stroke="#111" stroke-width="1.6" fill="none" stroke-linejoin="miter"/>
<text x="550.1" y="303.2" font-size="12" font-weight="normal" text-anchor="middle" fill="#222">ns</text>
<path d="M490.8,395.6 L490.8,389.0 L509.9,389.0 L509.9,395.6" stroke="#111" stroke-width="1.6" fill="none" stroke-linejoin="miter"/>
<text x="501.3" y="390.04" font-size="11.8" font-weight="normal" text-anchor="middle" fill="#222">***</text>
<rect x="600.1" y="294.6" width="15.1" height="7.5" fill="#2300fa"/>
<text x="623.0" y="302.0" font-size="10.9" font-weight="bold" text-anchor="start" fill="#111">Control</text>
<rect x="600.1" y="312.7" width="15.1" height="7.5" fill="#8a00e2"/>
<text x="623.0" y="320.1" font-size="10.9" font-weight="bold" text-anchor="start" fill="#111">DREADD</text>
<rect x="600.1" y="330.3" width="15.1" height="7.5" fill="#4c0a80"/>
<text x="623.0" y="337.7" font-size="10.9" font-weight="bold" text-anchor="start" fill="#111">Intact</text>
<path d="M22,509.4 L149.5,509.4 L149.5,596.6 L4.3,596.6 L4.3,528.5 L22,528.5 Z" stroke="none" stroke-width="1" fill="#f4f4f4"/>
<path d="M6.2,577.4 C9,573 12,571 14,569.5 C17,566 19,563 20.8,560 L23.1,557.1 L28.2,562.2 C31,561 40,557 50.8,553.7 C58,551 64,549 73.7,548.6 C80,548.5 84,551 87,554.5 C90,557 92,562 94.3,568.5 C96,572 98,574 101,575.5 C110,579 125,581.5 141.2,583.7 C132,585.6 118,584 108,582.7 C100,582.5 92,584.5 85.4,586.2 C82,586 80,584 79,583.7 C76,584 73,586 71,587.3 C70,588.3 73,588.6 75.2,588.8 L66.3,589.6 C67,588 69,586.5 70.2,585.8 C66,584.5 62,583.5 58,583.3 C50,583.4 42,584 35,586 C32,587 30.5,588.5 29.3,589.2 L24.3,589.8 C25.5,588.3 26.5,587 27.1,585.3 C22,584 18,583 16.9,582.5 C13,582 11,581.8 10.2,581.3 C8,580.3 6.5,579 6.2,577.4 Z" stroke="#3a3a3a" stroke-width="0.75" fill="#dedede"/>
<path d="M33,566.5 C45,562 60,557 72,554.5 C78,553.6 82,554.5 84.5,556.2" stroke="#7c7c7c" stroke-width="2.6" fill="none" stroke-linecap="round"/>
<circle cx="20.3" cy="570.1" r="1.7" fill="#111"/>
<line x1="7" y1="583" x2="12" y2="578.5" stroke="#444" stroke-width="0.6"/>
<line x1="8" y1="585.5" x2="12.5" y2="580" stroke="#444" stroke-width="0.6"/>
<line x1="10" y1="586" x2="12.8" y2="581" stroke="#444" stroke-width="0.6"/>
<line x1="73.7" y1="514.1" x2="73.7" y2="522" stroke="#111" stroke-width="1.1"/>
<line x1="72.1" y1="514.1" x2="75.5" y2="514.1" stroke="#111" stroke-width="1.1"/>
<line x1="69.5" y1="521.8" x2="78.3" y2="521.8" stroke="#111" stroke-width="1.4"/>
<rect x="71.3" y="522.3" width="4.9" height="20.8" fill="#eeeeee" stroke="#555" stroke-width="0.5"/>
<rect x="71.5" y="532.9" width="4.5" height="10.2" fill="#b3323a"/>
<line x1="72.2" y1="524.5" x2="74.2" y2="524.5" stroke="#111" stroke-width="1.0"/>
<line x1="72.2" y1="527.5" x2="74.2" y2="527.5" stroke="#111" stroke-width="1.0"/>
<line x1="72.2" y1="530.5" x2="74.2" y2="530.5" stroke="#111" stroke-width="1.0"/>
<line x1="73.7" y1="543.1" x2="73.7" y2="554.5" stroke="#111" stroke-width="1.0"/>
<text x="169.2" y="528.7" font-size="12.75" font-weight="normal" text-anchor="middle" fill="#111">PHP.S-Flex-hM3Dq-mCherry</text>
<text x="171.9" y="544.5" font-size="12.75" font-weight="normal" text-anchor="middle" fill="#9b20ee">(DREADD)</text>
<text x="172.0" y="559.2" font-size="12.75" font-weight="normal" text-anchor="middle" fill="#111">or</text>
<text x="169.6" y="574.3" font-size="12.75" font-weight="normal" text-anchor="middle" fill="#111">PHP.S-Flex-PLAP</text>
<text x="172.3" y="589.6" font-size="12.75" font-weight="normal" text-anchor="middle" fill="#3a2cf5">(Control)</text>
<text x="70.7" y="607.0" font-size="11.7" font-weight="normal" text-anchor="middle" fill="#111">PV-Cre</text>
<line x1="243.5" y1="565.9" x2="369.5" y2="565.9" stroke="#000" stroke-width="1.5"/>
<line x1="385.5" y1="565.9" x2="651.8" y2="565.9" stroke="#000" stroke-width="1.5"/>
<line x1="243.5" y1="552.5" x2="243.5" y2="576" stroke="#000" stroke-width="2"/>
<line x1="293.8" y1="552.5" x2="293.8" y2="576" stroke="#000" stroke-width="2"/>
<line x1="331.9" y1="552.5" x2="331.9" y2="576" stroke="#000" stroke-width="2"/>
<line x1="457.5" y1="553.4" x2="457.5" y2="577.2" stroke="#000" stroke-width="2"/>
<line x1="541.3" y1="553.4" x2="541.3" y2="577.2" stroke="#000" stroke-width="2"/>
<line x1="620.9" y1="553.4" x2="620.9" y2="577.2" stroke="#000" stroke-width="2"/>
<line x1="369.2" y1="552.8" x2="378.1" y2="578.2" stroke="#000" stroke-width="1.8"/>
<line x1="378.8" y1="552.8" x2="388.2" y2="578.2" stroke="#000" stroke-width="1.8"/>
<text x="292.4" y="545.7" font-size="12.55" font-weight="normal" text-anchor="middle" fill="#111">SCI</text>
<text x="378.8" y="544.5" font-size="12.55" font-weight="normal" text-anchor="middle" fill="#111">CNO daily</text>
<text x="459.0" y="544.5" font-size="12.55" font-weight="normal" text-anchor="middle" fill="#111">Behavior test</text>
<text x="542.8" y="545.0" font-size="12.55" font-weight="normal" text-anchor="middle" fill="#111">4-AP-MeOH</text>
<text x="625.6" y="544.5" font-size="12.55" font-weight="normal" text-anchor="middle" fill="#111">Behavior test</text>
<text x="655.6" y="569.8" font-size="12.55" font-weight="normal" text-anchor="start" fill="#111">Histology</text>
<text x="246.7" y="594.8" font-size="12.55" font-weight="normal" text-anchor="middle" fill="#111">Day 0</text>
<text x="293.3" y="594.8" font-size="12.55" font-weight="normal" text-anchor="middle" fill="#111">2 wks</text>
<text x="332.6" y="594.8" font-size="12.55" font-weight="normal" text-anchor="middle" fill="#111">3 wks</text>
<text x="456.2" y="594.8" font-size="12.55" font-weight="normal" text-anchor="middle" fill="#111">8 wks</text>
<text x="540.6" y="594.8" font-size="12.55" font-weight="normal" text-anchor="middle" fill="#111">8 wks</text>
<text x="619.4" y="594.8" font-size="12.55" font-weight="normal" text-anchor="middle" fill="#111">8 wks</text>
<text x="323.4" y="642.9" font-size="12.65" font-weight="bold" text-anchor="middle" fill="#111">DREADD mice</text>
<line x1="42.9" y1="650.8" x2="611.2" y2="650.8" stroke="#444" stroke-width="1.5"/>
<text x="97.0" y="671.9" font-size="12.6" font-weight="normal" text-anchor="middle" fill="#222">BMS score</text>
<text x="246.0" y="671.0" font-size="12.6" font-weight="normal" text-anchor="middle" fill="#222">Percentage of plantar stepping</text>
<text x="401.2" y="672.3" font-size="12.6" font-weight="normal" text-anchor="middle" fill="#222">Joint movement</text>
<text x="554.8" y="671.4" font-size="12.6" font-weight="normal" text-anchor="middle" fill="#222">Body weight support</text>
<line x1="52.8" y1="690.9" x2="52.8" y2="828.35" stroke="#000" stroke-width="1.7"/>
<line x1="46.6" y1="827.5" x2="52.8" y2="827.5" stroke="#000" stroke-width="1.7"/>
<text x="45.1" y="831.82" font-size="12.7" font-weight="bold" text-anchor="end" fill="#111">0</text>
<line x1="46.6" y1="800.18" x2="52.8" y2="800.18" stroke="#000" stroke-width="1.7"/>
<text x="45.1" y="804.5" font-size="12.7" font-weight="bold" text-anchor="end" fill="#111">1</text>
<line x1="46.6" y1="772.86" x2="52.8" y2="772.86" stroke="#000" stroke-width="1.7"/>
<text x="45.1" y="777.18" font-size="12.7" font-weight="bold" text-anchor="end" fill="#111">2</text>
<line x1="46.6" y1="745.54" x2="52.8" y2="745.54" stroke="#000" stroke-width="1.7"/>
<text x="45.1" y="749.86" font-size="12.7" font-weight="bold" text-anchor="end" fill="#111">3</text>
<line x1="46.6" y1="718.22" x2="52.8" y2="718.22" stroke="#000" stroke-width="1.7"/>
<text x="45.1" y="722.54" font-size="12.7" font-weight="bold" text-anchor="end" fill="#111">4</text>
<line x1="46.6" y1="690.9" x2="52.8" y2="690.9" stroke="#000" stroke-width="1.7"/>
<text x="45.1" y="695.22" font-size="12.7" font-weight="bold" text-anchor="end" fill="#111">5</text>
<line x1="51.95" y1="827.5" x2="144.7" y2="827.5" stroke="#000" stroke-width="1.7"/>
<rect x="66.3" y="752.7" width="25.3" height="74.8" fill="#4f4f4f"/>
<rect x="105.4" y="733.7" width="25.5" height="93.8" fill="#000"/>
<line x1="78.7" y1="827.5" x2="78.7" y2="830.7" stroke="#444" stroke-width="1.0"/>
<line x1="118.0" y1="827.5" x2="118.0" y2="830.7" stroke="#444" stroke-width="1.0"/>
<text x="25.6" y="755.7" font-size="12.0" font-weight="bold" text-anchor="middle" fill="#111" transform="rotate(-90 25.6 755.7)">BMS score (6 wks post SCI)</text>
<line x1="78.6" y1="752.7" x2="78.6" y2="737.8" stroke="#666" stroke-width="1.3"/>
<line x1="72.2" y1="737.8" x2="85.0" y2="737.8" stroke="#666" stroke-width="1.3"/>
<line x1="118.1" y1="733.7" x2="118.1" y2="712.2" stroke="#666" stroke-width="1.3"/>
<line x1="111.5" y1="712.2" x2="124.7" y2="712.2" stroke="#666" stroke-width="1.3"/>
<circle cx="78.6" cy="731.9" r="2.65" fill="#fff" stroke="#000" stroke-width="1.35"/>
<circle cx="69" cy="745.7" r="2.65" fill="#fff" stroke="#000" stroke-width="1.35"/>
<circle cx="75.6" cy="745.7" r="2.65" fill="#fff" stroke="#000" stroke-width="1.35"/>
<circle cx="82" cy="745.7" r="2.65" fill="#fff" stroke="#000" stroke-width="1.35"/>
<circle cx="88.4" cy="745.7" r="2.65" fill="#fff" stroke="#000" stroke-width="1.35"/>
<circle cx="78.6" cy="759.2" r="2.65" fill="#fff" stroke="#000" stroke-width="1.35"/>
<circle cx="75.6" cy="773.4" r="2.65" fill="#fff" stroke="#000" stroke-width="1.35"/>
<circle cx="82" cy="773.4" r="2.65" fill="#fff" stroke="#000" stroke-width="1.35"/>
<circle cx="108.3" cy="718" r="2.65" fill="#fff" stroke="#000" stroke-width="1.35"/>
<circle cx="115" cy="718" r="2.65" fill="#fff" stroke="#000" stroke-width="1.35"/>
<circle cx="121.5" cy="718" r="2.65" fill="#fff" stroke="#000" stroke-width="1.35"/>
<circle cx="127.7" cy="718" r="2.65" fill="#fff" stroke="#000" stroke-width="1.35"/>
<circle cx="115" cy="731.9" r="2.65" fill="#fff" stroke="#000" stroke-width="1.35"/>
<circle cx="121.5" cy="731.9" r="2.65" fill="#fff" stroke="#000" stroke-width="1.35"/>
<circle cx="118.1" cy="759.2" r="2.65" fill="#fff" stroke="#000" stroke-width="1.35"/>
<circle cx="118.1" cy="773.1" r="2.65" fill="#fff" stroke="#000" stroke-width="1.35"/>
<path d="M78.4,708.5 L78.4,702 L118.1,702 L118.1,708.5" stroke="#111" stroke-width="1.5" fill="none" stroke-linejoin="miter"/>
<text x="98.6" y="700.22" font-size="10.2" font-weight="normal" text-anchor="middle" fill="#222">**</text>
<line x1="209.4" y1="689.5" x2="209.4" y2="828.25" stroke="#000" stroke-width="1.7"/>
<line x1="203.2" y1="827.4" x2="209.4" y2="827.4" stroke="#000" stroke-width="1.7"/>
<text x="201.7" y="831.72" font-size="12.7" font-weight="bold" text-anchor="end" fill="#111">0</text>
<line x1="203.2" y1="799.82" x2="209.4" y2="799.82" stroke="#000" stroke-width="1.7"/>
<text x="201.7" y="804.14" font-size="12.7" font-weight="bold" text-anchor="end" fill="#111">20</text>
<line x1="203.2" y1="772.24" x2="209.4" y2="772.24" stroke="#000" stroke-width="1.7"/>
<text x="201.7" y="776.56" font-size="12.7" font-weight="bold" text-anchor="end" fill="#111">40</text>
<line x1="203.2" y1="744.66" x2="209.4" y2="744.66" stroke="#000" stroke-width="1.7"/>
<text x="201.7" y="748.98" font-size="12.7" font-weight="bold" text-anchor="end" fill="#111">60</text>
<line x1="203.2" y1="717.08" x2="209.4" y2="717.08" stroke="#000" stroke-width="1.7"/>
<text x="201.7" y="721.4" font-size="12.7" font-weight="bold" text-anchor="end" fill="#111">80</text>
<line x1="203.2" y1="689.5" x2="209.4" y2="689.5" stroke="#000" stroke-width="1.7"/>
<text x="201.7" y="693.82" font-size="12.7" font-weight="bold" text-anchor="end" fill="#111">100</text>
<line x1="208.55" y1="827.4" x2="302.3" y2="827.4" stroke="#000" stroke-width="1.7"/>
<rect x="222.7" y="810.2" width="26.1" height="17.2" fill="#4f4f4f"/>
<rect x="262.4" y="724.0" width="25.9" height="103.4" fill="#000"/>
<line x1="235.8" y1="827.4" x2="235.8" y2="830.6" stroke="#444" stroke-width="1.0"/>
<line x1="275.3" y1="827.4" x2="275.3" y2="830.6" stroke="#444" stroke-width="1.0"/>
<text x="175.6" y="758.5" font-size="12.6" font-weight="bold" text-anchor="middle" fill="#111" transform="rotate(-90 175.6 758.5)">% of plantar stepping</text>
<line x1="369.7" y1="688.8" x2="369.7" y2="827.45" stroke="#000" stroke-width="1.7"/>
<line x1="363.5" y1="826.6" x2="369.7" y2="826.6" stroke="#000" stroke-width="1.7"/>
<text x="362.0" y="830.92" font-size="12.7" font-weight="bold" text-anchor="end" fill="#111">0</text>
<line x1="363.5" y1="799.05" x2="369.7" y2="799.05" stroke="#000" stroke-width="1.7"/>
<text x="362.0" y="803.37" font-size="12.7" font-weight="bold" text-anchor="end" fill="#111">10</text>
<line x1="363.5" y1="771.5" x2="369.7" y2="771.5" stroke="#000" stroke-width="1.7"/>
<text x="362.0" y="775.82" font-size="12.7" font-weight="bold" text-anchor="end" fill="#111">20</text>
<line x1="363.5" y1="743.95" x2="369.7" y2="743.95" stroke="#000" stroke-width="1.7"/>
<text x="362.0" y="748.27" font-size="12.7" font-weight="bold" text-anchor="end" fill="#111">30</text>
<line x1="363.5" y1="716.4" x2="369.7" y2="716.4" stroke="#000" stroke-width="1.7"/>
<text x="362.0" y="720.72" font-size="12.7" font-weight="bold" text-anchor="end" fill="#111">40</text>
<line x1="363.5" y1="688.85" x2="369.7" y2="688.85" stroke="#000" stroke-width="1.7"/>
<text x="362.0" y="693.17" font-size="12.7" font-weight="bold" text-anchor="end" fill="#111">50</text>
<line x1="368.85" y1="826.6" x2="461.7" y2="826.6" stroke="#000" stroke-width="1.7"/>
<rect x="383.2" y="747.0" width="25.5" height="79.6" fill="#4f4f4f"/>
<rect x="422.2" y="731.7" width="25.8" height="94.9" fill="#000"/>
<line x1="396.0" y1="826.6" x2="396.0" y2="829.8" stroke="#444" stroke-width="1.0"/>
<line x1="435.1" y1="826.6" x2="435.1" y2="829.8" stroke="#444" stroke-width="1.0"/>
<text x="337.6" y="756.6" font-size="12.6" font-weight="bold" text-anchor="middle" fill="#111" transform="rotate(-90 337.6 756.6)">Knee oscillation (degree)</text>
<line x1="396.3" y1="747" x2="396.3" y2="732.4" stroke="#666" stroke-width="1.2"/>
<line x1="390.7" y1="732.4" x2="401.9" y2="732.4" stroke="#666" stroke-width="1.2"/>
<line x1="435.1" y1="731.7" x2="435.1" y2="709.1" stroke="#666" stroke-width="1.2"/>
<line x1="428.5" y1="709.1" x2="441.7" y2="709.1" stroke="#666" stroke-width="1.2"/>
<circle cx="396.3" cy="730.1" r="2.65" fill="#fff" stroke="#000" stroke-width="1.35"/>
<circle cx="404.6" cy="734.6" r="2.65" fill="#fff" stroke="#000" stroke-width="1.35"/>
<circle cx="396.3" cy="738" r="2.65" fill="#fff" stroke="#000" stroke-width="1.35"/>
<circle cx="387" cy="741.4" r="2.65" fill="#fff" stroke="#000" stroke-width="1.35"/>
<circle cx="391.8" cy="743.7" r="2.65" fill="#fff" stroke="#000" stroke-width="1.35"/>
<circle cx="400.1" cy="751.6" r="2.65" fill="#fff" stroke="#000" stroke-width="1.35"/>
<circle cx="391.8" cy="768.5" r="2.65" fill="#fff" stroke="#000" stroke-width="1.35"/>
<circle cx="400.1" cy="769.6" r="2.65" fill="#fff" stroke="#000" stroke-width="1.35"/>
<circle cx="428.8" cy="707.1" r="2.65" fill="#fff" stroke="#000" stroke-width="1.35"/>
<circle cx="441.9" cy="712.1" r="2.65" fill="#fff" stroke="#000" stroke-width="1.35"/>
<circle cx="441.9" cy="716.6" r="2.65" fill="#fff" stroke="#000" stroke-width="1.35"/>
<circle cx="428.8" cy="721.1" r="2.65" fill="#fff" stroke="#000" stroke-width="1.35"/>
<circle cx="428.8" cy="730.8" r="2.65" fill="#fff" stroke="#000" stroke-width="1.35"/>
<circle cx="441.9" cy="736.9" r="2.65" fill="#fff" stroke="#000" stroke-width="1.35"/>
<circle cx="435.1" cy="756.1" r="2.65" fill="#fff" stroke="#000" stroke-width="1.35"/>
<circle cx="435.1" cy="773" r="2.65" fill="#fff" stroke="#000" stroke-width="1.35"/>
<path d="M395.6,703 L395.6,697 L435.1,697 L435.1,703" stroke="#111" stroke-width="1.5" fill="none" stroke-linejoin="miter"/>
<text x="416" y="695.48" font-size="10.5" font-weight="normal" text-anchor="middle" fill="#222">**</text>
<line x1="517.1" y1="687.8" x2="517.1" y2="827.05" stroke="#000" stroke-width="1.7"/>
<line x1="510.9" y1="826.2" x2="517.1" y2="826.2" stroke="#000" stroke-width="1.7"/>
<text x="509.4" y="830.52" font-size="12.7" font-weight="bold" text-anchor="end" fill="#111">0.0</text>
<line x1="510.9" y1="791.6" x2="517.1" y2="791.6" stroke="#000" stroke-width="1.7"/>
<text x="509.4" y="795.92" font-size="12.7" font-weight="bold" text-anchor="end" fill="#111">0.5</text>
<line x1="510.9" y1="757.0" x2="517.1" y2="757.0" stroke="#000" stroke-width="1.7"/>
<text x="509.4" y="761.32" font-size="12.7" font-weight="bold" text-anchor="end" fill="#111">1.0</text>
<line x1="510.9" y1="722.4" x2="517.1" y2="722.4" stroke="#000" stroke-width="1.7"/>
<text x="509.4" y="726.72" font-size="12.7" font-weight="bold" text-anchor="end" fill="#111">1.5</text>
<line x1="510.9" y1="687.8" x2="517.1" y2="687.8" stroke="#000" stroke-width="1.7"/>
<text x="509.4" y="692.12" font-size="12.7" font-weight="bold" text-anchor="end" fill="#111">2.0</text>
<line x1="516.25" y1="826.2" x2="610.1" y2="826.2" stroke="#000" stroke-width="1.7"/>
<rect x="530.0" y="732.4" width="26.6" height="93.8" fill="#4f4f4f"/>
<rect x="570.1" y="724.0" width="26.0" height="102.2" fill="#000"/>
<line x1="543.3" y1="826.2" x2="543.3" y2="829.4" stroke="#444" stroke-width="1.0"/>
<line x1="583.0" y1="826.2" x2="583.0" y2="829.4" stroke="#444" stroke-width="1.0"/>
<text x="481.4" y="755.0" font-size="12.6" font-weight="bold" text-anchor="middle" fill="#111" transform="rotate(-90 481.4 755.0)">Iliac crest height (cm)</text>
<line x1="543.3" y1="732.4" x2="543.3" y2="722.5" stroke="#666" stroke-width="1.2"/>
<line x1="537.8" y1="722.5" x2="548.8" y2="722.5" stroke="#666" stroke-width="1.2"/>
<line x1="583" y1="724" x2="583" y2="708.7" stroke="#666" stroke-width="1.2"/>
<line x1="577.4" y1="708.7" x2="588.6" y2="708.7" stroke="#666" stroke-width="1.2"/>
<circle cx="539" cy="721.1" r="2.65" fill="#fff" stroke="#000" stroke-width="1.35"/>
<circle cx="547.6" cy="721.8" r="2.65" fill="#fff" stroke="#000" stroke-width="1.35"/>
<circle cx="534.5" cy="729.4" r="2.65" fill="#fff" stroke="#000" stroke-width="1.35"/>
<circle cx="543" cy="730.1" r="2.65" fill="#fff" stroke="#000" stroke-width="1.35"/>
<circle cx="552.1" cy="727.4" r="2.65" fill="#fff" stroke="#000" stroke-width="1.35"/>
<circle cx="534.5" cy="739.1" r="2.65" fill="#fff" stroke="#000" stroke-width="1.35"/>
<circle cx="543" cy="742.5" r="2.65" fill="#fff" stroke="#000" stroke-width="1.35"/>
<circle cx="552.1" cy="747" r="2.65" fill="#fff" stroke="#000" stroke-width="1.35"/>
<circle cx="583" cy="705.3" r="2.65" fill="#fff" stroke="#000" stroke-width="1.35"/>
<circle cx="592" cy="710.3" r="2.65" fill="#fff" stroke="#000" stroke-width="1.35"/>
<circle cx="574.4" cy="717.3" r="2.65" fill="#fff" stroke="#000" stroke-width="1.35"/>
<circle cx="583" cy="715" r="2.65" fill="#fff" stroke="#000" stroke-width="1.35"/>
<circle cx="578.5" cy="722.7" r="2.65" fill="#fff" stroke="#000" stroke-width="1.35"/>
<circle cx="587.5" cy="729.4" r="2.65" fill="#fff" stroke="#000" stroke-width="1.35"/>
<circle cx="578.5" cy="742.1" r="2.65" fill="#fff" stroke="#000" stroke-width="1.35"/>
<circle cx="587.5" cy="749.3" r="2.65" fill="#fff" stroke="#000" stroke-width="1.35"/>
<path d="M545.3,698.5 L545.3,692.2 L583,692.2 L583,698.5" stroke="#111" stroke-width="1.5" fill="none" stroke-linejoin="miter"/>
<text x="563.8" y="692.12" font-size="10.2" font-weight="normal" text-anchor="middle" fill="#222">*</text>
<rect x="613.8" y="691.2" width="12.8" height="13.4" fill="#8f8f8f"/>
<rect x="613.8" y="732.3" width="12.8" height="13.5" fill="#000"/>
<text x="633.3" y="702.3" font-size="12.6" font-weight="bold" text-anchor="start" fill="#111">Pre 4-AP-</text>
<text x="633.3" y="717.7" font-size="12.6" font-weight="bold" text-anchor="start" fill="#111">MeOH</text>
<text x="633.3" y="743.5" font-size="12.6" font-weight="bold" text-anchor="start" fill="#111">Post 4-AP-</text>
<text x="633.3" y="758.4" font-size="12.6" font-weight="bold" text-anchor="start" fill="#111">MeOH</text>
<text x="327.0" y="859.5" font-size="12.5" font-weight="bold" text-anchor="middle" fill="#111">Control mice</text>
<line x1="38.8" y1="866.9" x2="606.7" y2="866.9" stroke="#444" stroke-width="1.5"/>
<line x1="51.7" y1="885.2" x2="51.7" y2="1027.45" stroke="#000" stroke-width="1.7"/>
<line x1="45.5" y1="1026.6" x2="51.7" y2="1026.6" stroke="#000" stroke-width="1.7"/>
<text x="44.0" y="1030.92" font-size="12.7" font-weight="bold" text-anchor="end" fill="#111">0</text>
<line x1="45.5" y1="998.32" x2="51.7" y2="998.32" stroke="#000" stroke-width="1.7"/>
<text x="44.0" y="1002.64" font-size="12.7" font-weight="bold" text-anchor="end" fill="#111">1</text>
<line x1="45.5" y1="970.04" x2="51.7" y2="970.04" stroke="#000" stroke-width="1.7"/>
<text x="44.0" y="974.36" font-size="12.7" font-weight="bold" text-anchor="end" fill="#111">2</text>
<line x1="45.5" y1="941.76" x2="51.7" y2="941.76" stroke="#000" stroke-width="1.7"/>
<text x="44.0" y="946.08" font-size="12.7" font-weight="bold" text-anchor="end" fill="#111">3</text>
<line x1="45.5" y1="913.48" x2="51.7" y2="913.48" stroke="#000" stroke-width="1.7"/>
<text x="44.0" y="917.8" font-size="12.7" font-weight="bold" text-anchor="end" fill="#111">4</text>
<line x1="45.5" y1="885.2" x2="51.7" y2="885.2" stroke="#000" stroke-width="1.7"/>
<text x="44.0" y="889.52" font-size="12.7" font-weight="bold" text-anchor="end" fill="#111">5</text>
<line x1="50.85" y1="1026.6" x2="142.7" y2="1026.6" stroke="#000" stroke-width="1.7"/>
<rect x="65.2" y="1000.1" width="26.8" height="26.5" fill="#4f4f4f"/>
<rect x="105.5" y="996.3" width="26.4" height="30.3" fill="#000"/>
<line x1="78.4" y1="1026.6" x2="78.4" y2="1029.8" stroke="#444" stroke-width="1.0"/>
<line x1="118.7" y1="1026.6" x2="118.7" y2="1029.8" stroke="#444" stroke-width="1.0"/>
<text x="25.6" y="955.5" font-size="12.0" font-weight="bold" text-anchor="middle" fill="#111" transform="rotate(-90 25.6 955.5)">BMS score (6 wks post SCI)</text>
<line x1="78.4" y1="1000.1" x2="78.4" y2="988.2" stroke="#666" stroke-width="1.2"/>
<line x1="71.9" y1="988.2" x2="84.9" y2="988.2" stroke="#666" stroke-width="1.2"/>
<line x1="118.7" y1="996.3" x2="118.7" y2="980.3" stroke="#666" stroke-width="1.2"/>
<line x1="112.2" y1="980.3" x2="125.2" y2="980.3" stroke="#666" stroke-width="1.2"/>
<circle cx="73.9" cy="984" r="2.65" fill="#fff" stroke="#000" stroke-width="1.35"/>
<circle cx="82.9" cy="984" r="2.65" fill="#fff" stroke="#000" stroke-width="1.35"/>
<circle cx="69.4" cy="998.1" r="2.65" fill="#fff" stroke="#000" stroke-width="1.35"/>
<circle cx="78.4" cy="998.1" r="2.65" fill="#fff" stroke="#000" stroke-width="1.35"/>
<circle cx="87.4" cy="998.1" r="2.65" fill="#fff" stroke="#000" stroke-width="1.35"/>
<circle cx="69.4" cy="1012.5" r="2.65" fill="#fff" stroke="#000" stroke-width="1.35"/>
<circle cx="78.4" cy="1012.5" r="2.65" fill="#fff" stroke="#000" stroke-width="1.35"/>
<circle cx="87.4" cy="1012.5" r="2.65" fill="#fff" stroke="#000" stroke-width="1.35"/>
<circle cx="118.7" cy="970.2" r="2.65" fill="#fff" stroke="#000" stroke-width="1.35"/>
<circle cx="114.2" cy="984" r="2.65" fill="#fff" stroke="#000" stroke-width="1.35"/>
<circle cx="123.2" cy="984" r="2.65" fill="#fff" stroke="#000" stroke-width="1.35"/>
<circle cx="114.2" cy="998.1" r="2.65" fill="#fff" stroke="#000" stroke-width="1.35"/>
<circle cx="123.2" cy="998.1" r="2.65" fill="#fff" stroke="#000" stroke-width="1.35"/>
<circle cx="109.6" cy="1012.5" r="2.65" fill="#fff" stroke="#000" stroke-width="1.35"/>
<circle cx="118.7" cy="1012.5" r="2.65" fill="#fff" stroke="#000" stroke-width="1.35"/>
<circle cx="127.7" cy="1012.5" r="2.65" fill="#fff" stroke="#000" stroke-width="1.35"/>
<path d="M80.1,963.6 L80.1,958.2 L118.6,958.2 L118.6,963.6" stroke="#111" stroke-width="1.5" fill="none" stroke-linejoin="miter"/>
<text x="100.4" y="953.7" font-size="11.5" font-weight="normal" text-anchor="middle" fill="#222">ns</text>
<line x1="207.5" y1="883.2" x2="207.5" y2="1025.55" stroke="#000" stroke-width="1.7"/>
<line x1="201.3" y1="1024.7" x2="207.5" y2="1024.7" stroke="#000" stroke-width="1.7"/>
<text x="199.8" y="1029.02" font-size="12.7" font-weight="bold" text-anchor="end" fill="#111">0</text>
<line x1="201.3" y1="996.4" x2="207.5" y2="996.4" stroke="#000" stroke-width="1.7"/>
<text x="199.8" y="1000.72" font-size="12.7" font-weight="bold" text-anchor="end" fill="#111">20</text>
<line x1="201.3" y1="968.1" x2="207.5" y2="968.1" stroke="#000" stroke-width="1.7"/>
<text x="199.8" y="972.42" font-size="12.7" font-weight="bold" text-anchor="end" fill="#111">40</text>
<line x1="201.3" y1="939.8" x2="207.5" y2="939.8" stroke="#000" stroke-width="1.7"/>
<text x="199.8" y="944.12" font-size="12.7" font-weight="bold" text-anchor="end" fill="#111">60</text>
<line x1="201.3" y1="911.5" x2="207.5" y2="911.5" stroke="#000" stroke-width="1.7"/>
<text x="199.8" y="915.82" font-size="12.7" font-weight="bold" text-anchor="end" fill="#111">80</text>
<line x1="201.3" y1="883.2" x2="207.5" y2="883.2" stroke="#000" stroke-width="1.7"/>
<text x="199.8" y="887.52" font-size="12.7" font-weight="bold" text-anchor="end" fill="#111">100</text>
<line x1="206.65" y1="1024.7" x2="303.0" y2="1024.7" stroke="#000" stroke-width="1.7"/>
<line x1="234.0" y1="1024.7" x2="234.0" y2="1027.9" stroke="#444" stroke-width="1.0"/>
<line x1="274.6" y1="1024.7" x2="274.6" y2="1027.9" stroke="#444" stroke-width="1.0"/>
<text x="173.2" y="954.3" font-size="12.6" font-weight="bold" text-anchor="middle" fill="#111" transform="rotate(-90 173.2 954.3)">% of plantar stepping</text>
<text x="234.0" y="1009.0" font-size="12" font-weight="normal" text-anchor="middle" fill="#222">0</text>
<text x="274.6" y="1009.0" font-size="12" font-weight="normal" text-anchor="middle" fill="#222">0</text>
<line x1="368.7" y1="882.0" x2="368.7" y2="1024.25" stroke="#000" stroke-width="1.7"/>
<line x1="362.5" y1="1023.4" x2="368.7" y2="1023.4" stroke="#000" stroke-width="1.7"/>
<text x="361.0" y="1027.72" font-size="12.7" font-weight="bold" text-anchor="end" fill="#111">0</text>
<line x1="362.5" y1="995.12" x2="368.7" y2="995.12" stroke="#000" stroke-width="1.7"/>
<text x="361.0" y="999.44" font-size="12.7" font-weight="bold" text-anchor="end" fill="#111">10</text>
<line x1="362.5" y1="966.84" x2="368.7" y2="966.84" stroke="#000" stroke-width="1.7"/>
<text x="361.0" y="971.16" font-size="12.7" font-weight="bold" text-anchor="end" fill="#111">20</text>
<line x1="362.5" y1="938.56" x2="368.7" y2="938.56" stroke="#000" stroke-width="1.7"/>
<text x="361.0" y="942.88" font-size="12.7" font-weight="bold" text-anchor="end" fill="#111">30</text>
<line x1="362.5" y1="910.28" x2="368.7" y2="910.28" stroke="#000" stroke-width="1.7"/>
<text x="361.0" y="914.6" font-size="12.7" font-weight="bold" text-anchor="end" fill="#111">40</text>
<line x1="362.5" y1="882.0" x2="368.7" y2="882.0" stroke="#000" stroke-width="1.7"/>
<text x="361.0" y="886.32" font-size="12.7" font-weight="bold" text-anchor="end" fill="#111">50</text>
<line x1="367.85" y1="1023.4" x2="463.4" y2="1023.4" stroke="#000" stroke-width="1.7"/>
<rect x="383.1" y="975.5" width="26.4" height="47.9" fill="#4f4f4f"/>
<rect x="423.4" y="973.5" width="26.4" height="49.9" fill="#000"/>
<line x1="396.3" y1="1023.4" x2="396.3" y2="1026.6" stroke="#444" stroke-width="1.0"/>
<line x1="436.6" y1="1023.4" x2="436.6" y2="1026.6" stroke="#444" stroke-width="1.0"/>
<text x="337.8" y="953.3" font-size="12.6" font-weight="bold" text-anchor="middle" fill="#111" transform="rotate(-90 337.8 953.3)">Knee oscillation (degree)</text>
<line x1="393.4" y1="975.5" x2="393.4" y2="964.2" stroke="#666" stroke-width="1.2"/>
<line x1="389.2" y1="964.2" x2="397.6" y2="964.2" stroke="#666" stroke-width="1.2"/>
<line x1="437.1" y1="973.5" x2="437.1" y2="961.6" stroke="#666" stroke-width="1.2"/>
<line x1="431.65" y1="961.6" x2="442.55" y2="961.6" stroke="#666" stroke-width="1.2"/>
<circle cx="392.7" cy="957.5" r="2.65" fill="#fff" stroke="#000" stroke-width="1.35"/>
<circle cx="399.9" cy="963.5" r="2.65" fill="#fff" stroke="#000" stroke-width="1.35"/>
<circle cx="399.9" cy="968.3" r="2.65" fill="#fff" stroke="#000" stroke-width="1.35"/>
<circle cx="392.7" cy="973.5" r="2.65" fill="#fff" stroke="#000" stroke-width="1.35"/>
<circle cx="386.2" cy="981.9" r="2.65" fill="#fff" stroke="#000" stroke-width="1.35"/>
<circle cx="392.7" cy="984.3" r="2.65" fill="#fff" stroke="#000" stroke-width="1.35"/>
<circle cx="399.4" cy="986.2" r="2.65" fill="#fff" stroke="#000" stroke-width="1.35"/>
<circle cx="405.9" cy="990.3" r="2.65" fill="#fff" stroke="#000" stroke-width="1.35"/>
<circle cx="432.3" cy="952.7" r="2.65" fill="#fff" stroke="#000" stroke-width="1.35"/>
<circle cx="441.4" cy="959.9" r="2.65" fill="#fff" stroke="#000" stroke-width="1.35"/>
<circle cx="427.5" cy="971.9" r="2.65" fill="#fff" stroke="#000" stroke-width="1.35"/>
<circle cx="445.5" cy="970.2" r="2.65" fill="#fff" stroke="#000" stroke-width="1.35"/>
<circle cx="436.6" cy="976.7" r="2.65" fill="#fff" stroke="#000" stroke-width="1.35"/>
<circle cx="427.5" cy="981.5" r="2.65" fill="#fff" stroke="#000" stroke-width="1.35"/>
<circle cx="436.6" cy="985.5" r="2.65" fill="#fff" stroke="#000" stroke-width="1.35"/>
<circle cx="445.5" cy="987.9" r="2.65" fill="#fff" stroke="#000" stroke-width="1.35"/>
<path d="M397.5,944.8 L397.5,938.3 L435.9,938.3 L435.9,944.8" stroke="#111" stroke-width="1.5" fill="none" stroke-linejoin="miter"/>
<text x="417.9" y="934.7" font-size="11.5" font-weight="normal" text-anchor="middle" fill="#222">ns</text>
<line x1="518.3" y1="883.9" x2="518.3" y2="1023.55" stroke="#000" stroke-width="1.7"/>
<line x1="512.1" y1="1022.7" x2="518.3" y2="1022.7" stroke="#000" stroke-width="1.7"/>
<text x="510.6" y="1027.02" font-size="12.7" font-weight="bold" text-anchor="end" fill="#111">0.0</text>
<line x1="512.1" y1="988.0" x2="518.3" y2="988.0" stroke="#000" stroke-width="1.7"/>
<text x="510.6" y="992.32" font-size="12.7" font-weight="bold" text-anchor="end" fill="#111">0.5</text>
<line x1="512.1" y1="953.3" x2="518.3" y2="953.3" stroke="#000" stroke-width="1.7"/>
<text x="510.6" y="957.62" font-size="12.7" font-weight="bold" text-anchor="end" fill="#111">1.0</text>
<line x1="512.1" y1="918.6" x2="518.3" y2="918.6" stroke="#000" stroke-width="1.7"/>
<text x="510.6" y="922.92" font-size="12.7" font-weight="bold" text-anchor="end" fill="#111">1.5</text>
<line x1="512.1" y1="883.9" x2="518.3" y2="883.9" stroke="#000" stroke-width="1.7"/>
<text x="510.6" y="888.22" font-size="12.7" font-weight="bold" text-anchor="end" fill="#111">2.0</text>
<line x1="517.45" y1="1022.7" x2="610.6" y2="1022.7" stroke="#000" stroke-width="1.7"/>
<rect x="531.2" y="945.5" width="25.9" height="77.2" fill="#4f4f4f"/>
<rect x="571.0" y="944.8" width="26.1" height="77.9" fill="#000"/>
<line x1="544.0" y1="1022.7" x2="544.0" y2="1025.9" stroke="#444" stroke-width="1.0"/>
<line x1="584.0" y1="1022.7" x2="584.0" y2="1025.9" stroke="#444" stroke-width="1.0"/>
<text x="482.0" y="951.5" font-size="12.6" font-weight="bold" text-anchor="middle" fill="#111" transform="rotate(-90 482.0 951.5)">Iliac crest height (cm)</text>
<line x1="543.9" y1="945.5" x2="543.9" y2="931.1" stroke="#666" stroke-width="1.2"/>
<line x1="537.9" y1="931.1" x2="549.9" y2="931.1" stroke="#666" stroke-width="1.2"/>
<line x1="583.5" y1="944.8" x2="583.5" y2="930.6" stroke="#666" stroke-width="1.2"/>
<line x1="577.5" y1="930.6" x2="589.5" y2="930.6" stroke="#666" stroke-width="1.2"/>
<circle cx="537.4" cy="925.8" r="2.65" fill="#fff" stroke="#000" stroke-width="1.35"/>
<circle cx="550.6" cy="927.5" r="2.65" fill="#fff" stroke="#000" stroke-width="1.35"/>
<circle cx="550.6" cy="937.8" r="2.65" fill="#fff" stroke="#000" stroke-width="1.35"/>
<circle cx="537.4" cy="943.6" r="2.65" fill="#fff" stroke="#000" stroke-width="1.35"/>
<circle cx="537.4" cy="949.8" r="2.65" fill="#fff" stroke="#000" stroke-width="1.35"/>
<circle cx="550.6" cy="955.1" r="2.65" fill="#fff" stroke="#000" stroke-width="1.35"/>
<circle cx="537.4" cy="960.6" r="2.65" fill="#fff" stroke="#000" stroke-width="1.35"/>
<circle cx="550.6" cy="964" r="2.65" fill="#fff" stroke="#000" stroke-width="1.35"/>
<circle cx="584" cy="923.4" r="2.65" fill="#fff" stroke="#000" stroke-width="1.35"/>
<circle cx="588.7" cy="933.5" r="2.65" fill="#fff" stroke="#000" stroke-width="1.35"/>
<circle cx="579.4" cy="937.1" r="2.65" fill="#fff" stroke="#000" stroke-width="1.35"/>
<circle cx="575.1" cy="943.1" r="2.65" fill="#fff" stroke="#000" stroke-width="1.35"/>
<circle cx="584" cy="946" r="2.65" fill="#fff" stroke="#000" stroke-width="1.35"/>
<circle cx="593.1" cy="949.8" r="2.65" fill="#fff" stroke="#000" stroke-width="1.35"/>
<circle cx="584" cy="958.2" r="2.65" fill="#fff" stroke="#000" stroke-width="1.35"/>
<circle cx="584" cy="966.6" r="2.65" fill="#fff" stroke="#000" stroke-width="1.35"/>
<path d="M545.1,914.3 L545.1,908.3 L583.5,908.3 L583.5,914.3" stroke="#111" stroke-width="1.5" fill="none" stroke-linejoin="miter"/>
<text x="563.6" y="904.7" font-size="11.5" font-weight="normal" text-anchor="middle" fill="#222">ns</text>
</svg>
</body></html>
